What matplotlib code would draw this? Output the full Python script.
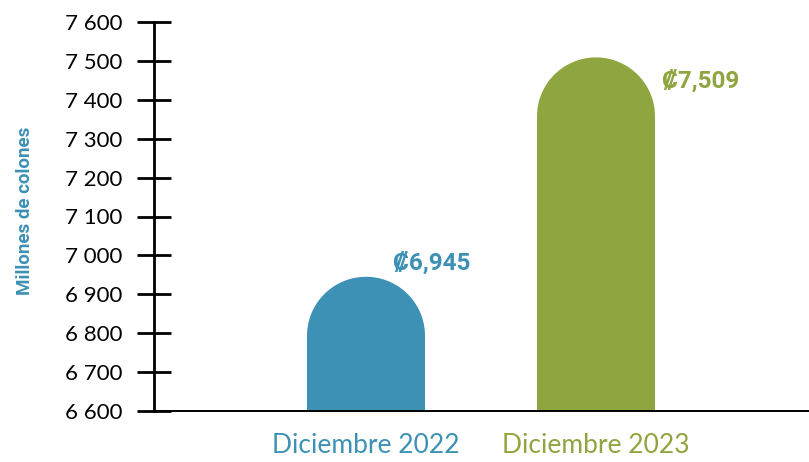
import numpy as np
import matplotlib.pyplot as plt
from matplotlib.patches import Polygon

# data
categorias = ["Diciembre 2022", "Diciembre 2023"]
valores = [6945, 7509]
etiquetas = ["\u20a16,945", "\u20a17,509"]
colores = ["#3d91b4", "#8fa540"]
yticks = list(range(6600, 7601, 100))
ytick_labels = ["6 600", "6 700", "6 800", "6 900", "7 000", "7 100",
                "7 200", "7 300", "7 400", "7 500", "7 600"]

plt.rcParams['font.family'] = ['Lato', 'DejaVu Sans']
negrita = ['Roboto', 'DejaVu Sans']

W, H = 809, 462
fig = plt.figure(figsize=(W / 100, H / 100), dpi=100)
ax = fig.add_axes([154 / W, 51 / H, 655 / W, 389 / H])
ax.set_ylim(6600, 7600)
ax.set_xlim(-212 / 230, 443 / 230)

ancho = 118 / 230
x = np.arange(len(categorias))
# radius of the round top in data units (y direction)
r_px = ancho / 2 * 230
r_y = r_px * 1000 / 389

for xi, v, c in zip(x, valores, colores):
    t = np.linspace(0, np.pi, 80)
    cx = xi + ancho / 2 * np.cos(t)
    cy = (v - r_y) + r_y * np.sin(t)
    pts = [(xi + ancho / 2, 6600)] + list(zip(cx, cy)) + [(xi - ancho / 2, 6600)]
    ax.add_patch(Polygon(pts, closed=True, facecolor=c, edgecolor='none', zorder=2))

# value labels
ax.annotate(etiquetas[0], (x[0], valores[0]), xytext=(27, 14), textcoords='offset pixels',
            ha='left', va='center', fontsize=17.5, fontweight='bold', color=colores[0],
            family=negrita)
ax.annotate(etiquetas[1], (x[1], valores[1]), xytext=(66, -24), textcoords='offset pixels',
            ha='left', va='center', fontsize=17.5, fontweight='bold', color=colores[1],
            family=negrita)

# axes styling
for s in ['top', 'right']:
    ax.spines[s].set_visible(False)
ax.spines['left'].set_linewidth(2)
ax.spines['bottom'].set_linewidth(1.4)
ax.spines['left'].set_zorder(3)
ax.spines['bottom'].set_zorder(3)
ax.set_yticks(yticks)
ax.set_yticklabels(ytick_labels)
ax.tick_params(axis='y', direction='inout', length=25, width=2, pad=10,
               labelsize=16, colors='black')
ax.set_xticks(x)
ax.set_xticklabels(categorias)
ax.tick_params(axis='x', length=0, pad=16, labelsize=19)
for lab, c in zip(ax.get_xticklabels(), colores):
    lab.set_color(c)

fig.text(25 / W, 1 - 211 / H, "Millones de colones", rotation=90, ha='center', va='center',
         fontsize=13.5, fontweight='bold', color=colores[0], family=negrita)

fig.savefig("out.png", dpi=100)
